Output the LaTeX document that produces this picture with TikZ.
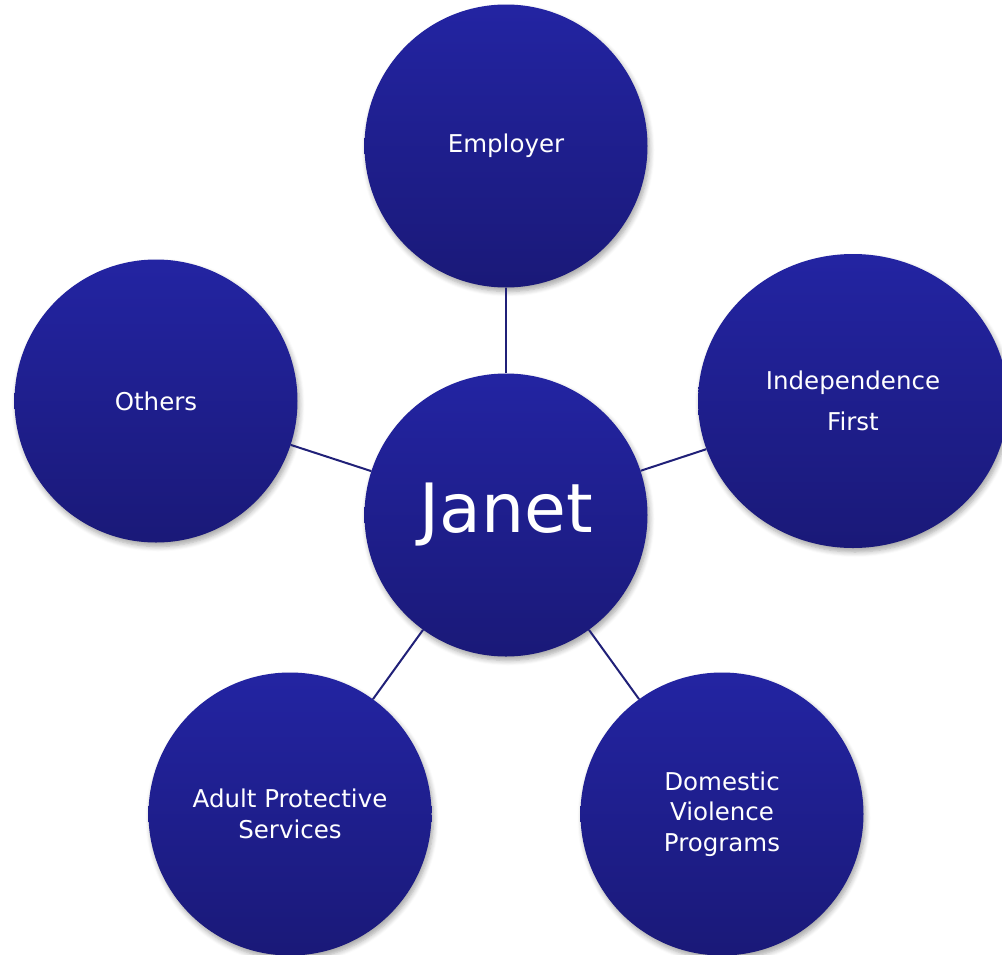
\documentclass[tikz,border=0pt]{standalone}
\usepackage{fontspec}
\setmainfont{DejaVu Sans}
\usetikzlibrary{shapes.geometric,shadows.blur}
\definecolor{bubtop}{RGB}{35,36,162}
\definecolor{bubbot}{RGB}{26,25,120}
\definecolor{linkc}{RGB}{32,32,120}
\tikzset{
  bubble/.style={circle, minimum size=283pt, inner sep=0pt, top color=bubtop, bottom color=bubbot, draw=none,
    text=white, align=center, font=\fontsize{24.5}{30.5}\selectfont,
    blur shadow={shadow xshift=2pt, shadow yshift=-4pt, shadow blur steps=6, shadow blur radius=5pt, shadow opacity=35}},
  link/.style={draw=linkc, line width=2pt}
}
\begin{document}
\begin{tikzpicture}[x=1pt,y=-1pt]
\useasboundingbox (0,0) rectangle (1002,954);
\node[bubble] (janet) at (506,515) {\fontsize{68}{80}\selectfont Janet};
\node[bubble] (emp) at (506,146) {Employer};
\node[bubble] (oth) at (156,401) {Others};
\node[bubble, ellipse, minimum width=310pt, minimum height=294pt, font=\fontsize{24.5}{41}\selectfont] (ind) at (853,401) {Independence\\First};
\node[bubble] (aps) at (290,814) {Adult Protective\\Services};
\node[bubble] (dvp) at (722,814) {Domestic\\Violence\\Programs};
\draw[link] (janet) -- (emp);
\draw[link] (janet) -- (oth);
\draw[link] (janet) -- (ind);
\draw[link] (janet) -- (aps);
\draw[link] (janet) -- (dvp);
\end{tikzpicture}
\end{document}
